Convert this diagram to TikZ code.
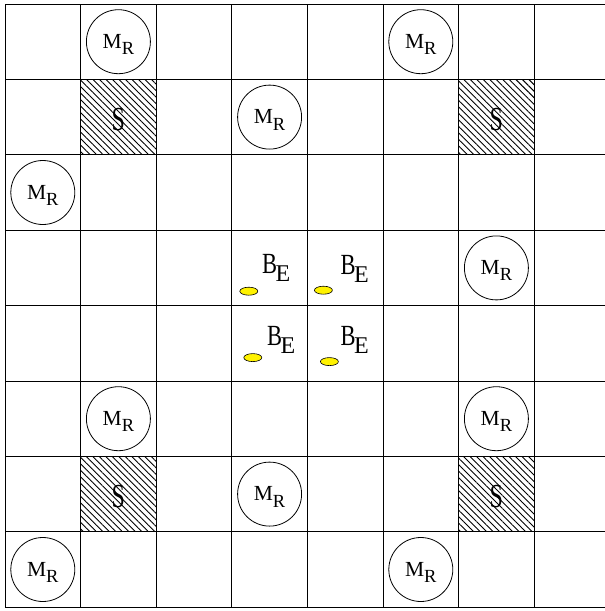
\documentclass[tikz,border=0pt]{standalone}
\usepackage{fontspec}
\setmainfont{Liberation Serif}
\usetikzlibrary{shapes.geometric,patterns.meta}
\tikzset{
  gridline/.style={line width=0.9pt},
  robotnode/.style={draw, circle, line width=0.8pt, minimum size=64pt, inner sep=0pt, font=\fontsize{21.5}{21.5}\selectfont},
  stationcell/.style={pattern={Lines[angle=-45,distance=4.6pt,line width=0.9pt]}},
  stationlabel/.style={inner sep=0pt, font=\fontsize{24}{24}\selectfont},
  beacondot/.style={draw, ellipse, fill=yellow, line width=0.6pt, minimum width=18pt, minimum height=8pt, inner sep=0pt},
  beaconlabel/.style={anchor=base west, inner sep=0pt, font=\fontsize{22.5}{22.5}\selectfont}
}
\newcommand{\robottext}{\raisebox{0pt}[13pt][0pt]{M\raisebox{-6.5pt}{\fontsize{18.5}{18.5}\selectfont R}}}
\newcommand{\beacontext}{\scalebox{1}[1.3]{B}\kern-1.5pt\raisebox{-8pt}{\fontsize{24}{24}\selectfont E}}
\def\cw{75.6}
\def\ch{75.4}

\begin{document}
\begin{tikzpicture}[x=1pt, y=-1pt]
\useasboundingbox (0,0) rectangle (605,611);
\foreach \col/\row [count=\i] in {1/1,6/1,1/6,6/6} {
  \fill[stationcell] ({5+\cw*\col},{4+\ch*\row}) rectangle +(\cw,\ch);
  \node[stationlabel] (station\i) at ({5+\cw*(\col+0.5)},{4+\ch*(\row+0.5)+2}) {\scalebox{1}[1.4]{S}};
}
\foreach \k in {0,...,8}
  \draw[gridline] (5,{4+\ch*\k}) -- (606,{4+\ch*\k});
\foreach \k in {0,...,7}
  \draw[gridline] ({5+\cw*\k},4) -- ({5+\cw*\k},{4+\ch*8});
\foreach \col/\row [count=\i] in {1/0,5/0,3/1,0/2,6/3,1/5,6/5,3/6,0/7,5/7}
  \node[robotnode] (robot\i) at ({5+\cw*(\col+0.5)},{4+\ch*(\row+0.5)}) {\robottext};
\foreach \col/\row/\ex/\ey/\bx/\by [count=\i] in {3/3/17/61/30/43, 4/3/16/60/33/44, 3/4/21/52/35/40, 4/4/22/56/33/40} {
  \node[beacondot] (beacon\i) at ({5+\cw*\col+\ex},{4+\ch*\row+\ey}) {};
  \node[beaconlabel] (beaconlabel\i) at ({5+\cw*\col+\bx},{4+\ch*\row+\by}) {\beacontext};
}
\end{tikzpicture}
\end{document}
